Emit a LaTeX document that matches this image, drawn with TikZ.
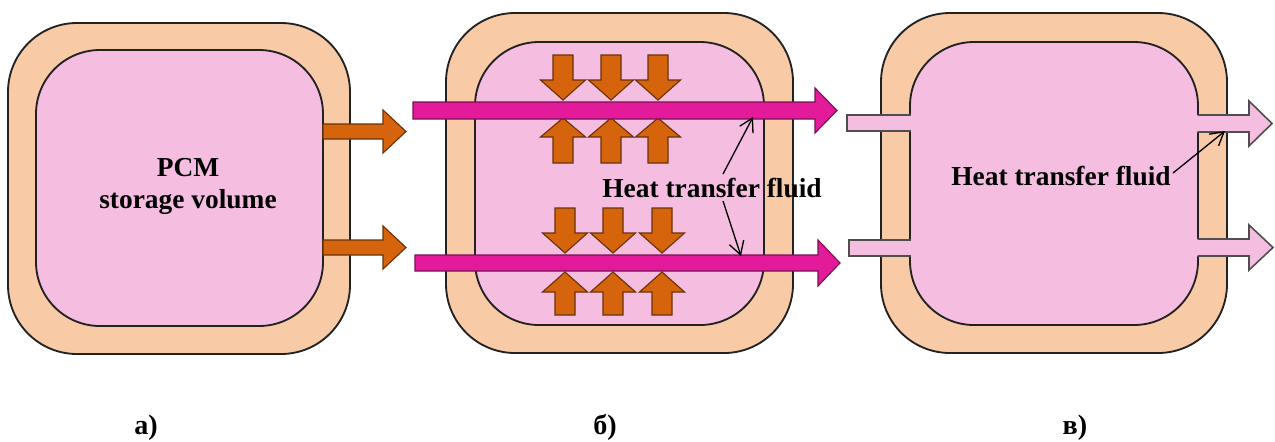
\documentclass[tikz,border=0pt]{standalone}
\usepackage{fontspec}
\setmainfont{Liberation Serif}
\usetikzlibrary{arrows.meta}
\definecolor{peach}{HTML}{F8CBA6}
\definecolor{pcm}{HTML}{F5BEE1}
\definecolor{heat}{HTML}{D6640C}
\definecolor{htf}{HTML}{E31B9B}
\definecolor{outl}{HTML}{222222}
% right-pointing block arrow: style, x start, head base x, tip x, centre y, shaft half, head half
\newcommand\rarr[7]{\draw[#1] (#2,#5-#6) -- (#3,#5-#6) -- (#3,#5-#7) -- (#4,#5) -- (#3,#5+#7) -- (#3,#5+#6) -- (#2,#5+#6) -- cycle;}
% vertical block arrow: style, centre x, tail y, head base y, tip y, shaft half, head half
\newcommand\varr[7]{\draw[#1] (#2-#6,#3) -- (#2+#6,#3) -- (#2+#6,#4) -- (#2+#7,#4) -- (#2,#5) -- (#2-#7,#4) -- (#2-#6,#4) -- cycle;}
\begin{document}
\begin{tikzpicture}[x=0.02cm,y=-0.02cm,line join=miter,
  ring/.style={fill=peach,draw=outl,line width=1.05pt,rounded corners=1.38cm},
  core/.style={fill=pcm,draw=outl,line width=1.05pt,rounded corners=1.28cm},
  heatarrow/.style={fill=heat,draw=heat!50!black,line width=0.65pt},
  fluidarrow/.style={fill=htf,draw=htf!55!black,line width=0.65pt},
  chan/.style={draw=outl!80,line width=0.9pt},
  lbl/.style={font=\bfseries\fontsize{15.6}{17}\selectfont,inner sep=0pt},
  captext/.style={font=\bfseries\fontsize{16}{18}\selectfont,inner sep=0pt},
  leader/.style={-{Straight Barb[length=0.26cm,width=0.3cm]},line width=0.75pt}]
\useasboundingbox (0,0) rectangle (1275,441);

% ---------- panel a ----------
\draw[ring] (8,23) rectangle (350,354);
\draw[core] (36,50) rectangle (323,326);
\rarr{heatarrow}{323}{383}{406}{131.5}{7.5}{21.5}
\rarr{heatarrow}{323}{383}{406}{247.5}{7.5}{21.5}
\node[lbl,anchor=base] (pcmt) at (188,176) {PCM};
\node[lbl,anchor=base] (volt) at (188,208) {storage volume};

% ---------- panel b ----------
\draw[ring] (446,13) rectangle (793,353);
\draw[core] (475,42) rectangle (764,325);
\foreach \cx in {563,611,658}{
  \varr{heatarrow}{\cx}{55}{80}{100}{10}{22.5}
  \varr{heatarrow}{\cx}{163}{137}{118}{10}{22.5}
}
\foreach \cx in {565,613,662}{
  \varr{heatarrow}{\cx}{208}{233}{253}{10}{22.5}
  \varr{heatarrow}{\cx}{315}{292}{272}{10}{22.5}
}
\rarr{fluidarrow}{413}{815}{837}{110.5}{8.5}{22.5}
\rarr{fluidarrow}{415}{818}{840}{263}{8}{23}
\node[lbl,anchor=base] (htfb) at (712,197) {Heat transfer fluid};
\coordinate (b1) at (753,117);
\coordinate (b2) at (741,256);
\coordinate (s1) at (723,174);
\coordinate (s2) at (723,201);
\draw[leader] (s1) -- (b1);
\draw[leader] (s2) -- (b2);

% ---------- panel c ----------
\draw[ring] (881,13) rectangle (1227,353);
\draw[core] (910,42) rectangle (1198,325);
% inlets
\fill[pcm] (846,115) rectangle (916,131);
\draw[chan] (910.5,115) -- (847,115) -- (847,131) -- (910.5,131);
\fill[pcm] (848,240) rectangle (916,256);
\draw[chan] (910.5,240) -- (849,240) -- (849,256) -- (910.5,256);
% outlets
\fill[pcm] (1192,115) -- (1249,115) -- (1249,101) -- (1272,123.5) -- (1249,146) -- (1249,132) -- (1192,132) -- cycle;
\draw[chan] (1197.5,115) -- (1249,115) -- (1249,101) -- (1272,123.5) -- (1249,146) -- (1249,132) -- (1197.5,132);
\fill[pcm] (1192,239) -- (1249,239) -- (1249,225) -- (1273,247.5) -- (1249,270) -- (1249,256) -- (1192,256) -- cycle;
\draw[chan] (1197.5,239) -- (1249,239) -- (1249,225) -- (1273,247.5) -- (1249,270) -- (1249,256) -- (1197.5,256);
\node[lbl,anchor=base] (htfc) at (1061,185) {Heat transfer fluid};
\coordinate (c1) at (1225,131);
\coordinate (cs) at (1173,173);
\draw[leader] (cs) -- (c1);

% ---------- captions ----------
\node[captext,anchor=base] (capa) at (146,434) {а)};
\node[captext,anchor=base] (capb) at (605,434) {б)};
\node[captext,anchor=base] (capc) at (1075,434) {в)};
\end{tikzpicture}
\end{document}
